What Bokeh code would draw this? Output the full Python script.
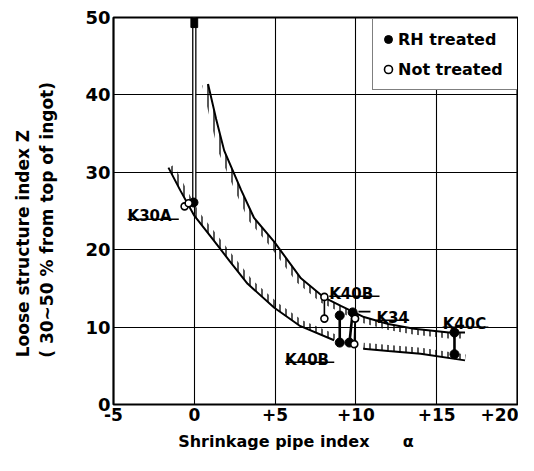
import numpy as np
from bokeh.plotting import figure
from bokeh.models import Legend, LegendItem, FixedTicker, Range1d, ColumnDataSource
from bokeh.embed import file_html
from bokeh.resources import INLINE
from bokeh.core.properties import value

# ---------------- data ----------------
x_ticks = [-5, 0, 5, 10, 15, 20]
x_tick_labels = ["-5", "0", "+5", "+10", "+15", "+20"]
y_ticks = [0, 10, 20, 30, 40, 50]
y_tick_labels = ["0", "10", "20", "30", "40", "50"]
x_grid = [0, 5, 10, 15]
y_grid = [10, 20, 30, 40]

upper_x = [0.85, 1.35, 1.85, 2.9, 3.7, 4.95, 6.6, 8.05, 9.1, 10.5, 12.0, 13.6, 15.75, 16.75]
upper_y = [41.4, 36.9, 32.8, 27.7, 24.1, 21.0, 16.3, 13.8, 12.7, 11.3, 10.4, 9.8, 9.3, 9.3]
lower_a_x = [-1.6, -0.85, 0.0, 1.2, 2.2, 3.3, 4.95, 6.5, 8.65]
lower_a_y = [30.6, 27.6, 24.4, 21.2, 18.5, 15.6, 12.5, 10.2, 8.3]
lower_b_x = [10.45, 12.0, 14.0, 16.75]
lower_b_y = [7.2, 6.9, 6.55, 5.7]

rh_x = [-0.05, 9.0, 9.0, 9.8, 9.6, 16.1, 16.1]
rh_y = [26.1, 11.5, 8.0, 11.9, 8.0, 9.3, 6.5]
nt_x = [-0.6, -0.35, 8.05, 8.05, 9.95, 9.9]
nt_y = [25.6, 26.0, 13.9, 11.1, 11.1, 7.8]

rh_pair_x0 = [9.0, 9.8, 16.1]
rh_pair_y0 = [11.5, 11.9, 9.3]
rh_pair_x1 = [9.0, 9.6, 16.1]
rh_pair_y1 = [8.0, 8.0, 6.5]
nt_pair_x0 = [8.05, 9.95]
nt_pair_y0 = [13.9, 11.1]
nt_pair_x1 = [8.05, 9.9]
nt_pair_y1 = [11.1, 7.8]

k30a_bar_x = [0]
k30a_bar_top = [50]
k30a_bar_bottom = [26.6]

ann_text = ["K30A", "K40B", "K34", "K40C", "K40B"]
ann_x = [-4.13, 8.35, 11.27, 15.37, 5.62]
ann_y = [24.3, 14.34, 11.24, 10.34, 5.81]
ann_end = [-0.96, 11.46, 13.3, 18.2, 8.66]

leader_x0 = [10.16]
leader_x1 = [10.9]
leader_y = [12.0]

y_title_1 = "Loose structure index  Z"
y_title_2 = "( 30~50 % from top of ingot)"
x_title = "Shrinkage pipe index"
x_symbol = "α"

FONT = "DejaVu Sans"
NB = "\u00a0"

# ---------------- figure ----------------
p = figure(width=518, height=463, x_range=Range1d(-5, 20), y_range=Range1d(0, 50),
           output_backend="svg", toolbar_location=None,
           min_border_left=113, min_border_right=1, min_border_top=17, min_border_bottom=59)
p.background_fill_color = "white"
p.border_fill_color = "white"
p.outline_line_color = "black"
p.outline_line_width = 2.2

for ax, ticks, labels, fs in ((p.xaxis, x_ticks, x_tick_labels, "17px"),
                              (p.yaxis, y_ticks, y_tick_labels, "18px")):
    ax.ticker = FixedTicker(ticks=ticks)
    ax.major_label_overrides = {t: l for t, l in zip(ticks, labels)}
    ax.major_tick_in = 0
    ax.major_tick_out = 0
    ax.minor_tick_in = 0
    ax.minor_tick_out = 0
    ax.axis_line_color = None
    ax.major_label_text_font = FONT
    ax.major_label_text_font_size = fs
    ax.major_label_text_font_style = "bold"
    ax.major_label_text_color = "black"
    ax.major_label_standoff = 3
    ax.axis_label_text_font = FONT
    ax.axis_label_text_font_style = "bold"
    ax.axis_label_text_color = "black"

p.yaxis.axis_label = y_title_1 + NB * 10 + "\n" + y_title_2 + NB * 3
p.yaxis.axis_label_text_font_size = "17px"
p.yaxis.axis_label_standoff = 25
p.xaxis.axis_label = x_title + NB * 6 + x_symbol + NB * 7
p.xaxis.axis_label_text_font_size = "16px"
p.xaxis.axis_label_standoff = 8

p.xgrid.ticker = FixedTicker(ticks=x_grid)
p.ygrid.ticker = FixedTicker(ticks=y_grid)
for g in (p.xgrid, p.ygrid):
    g.grid_line_color = "black"
    g.grid_line_width = 1.1
    g.grid_line_alpha = 1.0

# ---------------- hatched bands along the curves ----------------
SX = 404 / 25.0
SY = 387 / 50.0


def band(xs, ys, d_px, side):
    xs = np.asarray(xs, float)
    ys = np.asarray(ys, float)
    px, py = xs * SX, ys * SY
    tx, ty = np.gradient(px), np.gradient(py)
    n = np.hypot(tx, ty)
    tx, ty = tx / n, ty / n
    if side == "down":
        nx, ny = ty, -tx
    else:
        nx, ny = -ty, tx
    ox = xs + nx * d_px / SX
    oy = ys + ny * d_px / SY
    return list(xs) + list(ox[::-1]), list(ys) + list(oy[::-1])


for xs, ys, side in ((upper_x, upper_y, "down"), (lower_a_x, lower_a_y, "up"), (lower_b_x, lower_b_y, "up")):
    bx, by = band(xs, ys, 6, side)
    p.patch(bx, by, fill_color=None, line_color=None,
            hatch_pattern="|", hatch_color="black", hatch_scale=6, hatch_weight=1.3)

p.line(upper_x, upper_y, line_color="black", line_width=2)
p.multi_line([lower_a_x, lower_b_x], [lower_a_y, lower_b_y], line_color="black", line_width=2)

# K30A bar
p.vbar(x=k30a_bar_x, top=k30a_bar_top, bottom=k30a_bar_bottom, width=0.19,
       fill_color="white", line_color="black", line_width=1.3)
p.vbar(x=k30a_bar_x, top=k30a_bar_top, bottom=[t - 1.3 for t in k30a_bar_top], width=0.42,
       fill_color="black", line_color="black")

# connecting lines
p.segment(rh_pair_x0, rh_pair_y0, rh_pair_x1, rh_pair_y1, line_color="black", line_width=2.6)
p.segment(nt_pair_x0, nt_pair_y0, nt_pair_x1, nt_pair_y1, line_color="black", line_width=1.6)
p.segment(leader_x0, leader_y, leader_x1, leader_y, line_color="black", line_width=1.6)

rh = p.scatter(rh_x, rh_y, marker="circle", size=9, fill_color="black", line_color="black")
nt = p.scatter(nt_x, nt_y, marker="circle", size=7, fill_color="white", line_color="black", line_width=1.6)

# annotations
src = ColumnDataSource(dict(x=ann_x, y=ann_y, text=ann_text))
p.text(x="x", y="y", text="text", source=src, text_font=value(FONT), text_font_size="15px",
       text_font_style="bold", text_baseline="alphabetic", text_align="left", text_color="black")
p.segment(ann_x, [y - 0.35 for y in ann_y], ann_end, [y - 0.35 for y in ann_y],
          line_color="black", line_width=1.5)

# legend
legend = Legend(items=[LegendItem(label="RH treated", renderers=[rh]),
                       LegendItem(label="Not treated", renderers=[nt])],
                location=(259, 314), orientation="vertical")
legend.border_line_color = "black"
legend.border_line_width = 1.6
legend.background_fill_color = "white"
legend.background_fill_alpha = 1.0
legend.padding = 5
legend.spacing = -3
legend.margin = 0
legend.glyph_width = 20
legend.glyph_height = 30
legend.label_height = 30
legend.label_width = 118
legend.label_standoff = 0
legend.label_text_font = FONT
legend.label_text_font_size = "16px"
legend.label_text_font_style = "bold"
legend.label_text_color = "black"
p.add_layout(legend)

open("out.html", "w").write(file_html(p, INLINE))
